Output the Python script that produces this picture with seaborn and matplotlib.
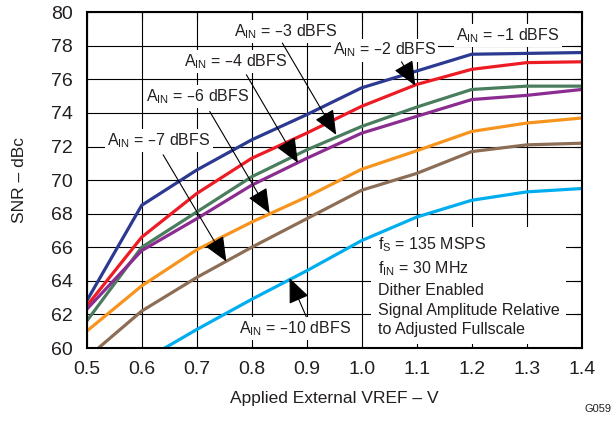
import matplotlib
matplotlib.use('Agg')
import matplotlib.pyplot as plt
import pandas as pd
import seaborn as sns

# values
vref = [0.5, 0.6, 0.7, 0.8, 0.9, 1.0, 1.1, 1.2, 1.3, 1.4]
snr_m1 = [62.8, 68.5, 70.6, 72.4, 73.9, 75.5, 76.5, 77.5, 77.55, 77.6]
snr_m2 = [62.5, 66.6, 69.2, 71.3, 72.8, 74.4, 75.7, 76.6, 77.0, 77.05]
snr_m3 = [61.6, 66.0, 68.1, 70.2, 71.8, 73.2, 74.35, 75.4, 75.6, 75.6]
snr_m4 = [62.3, 65.8, 67.7, 69.7, 71.3, 72.8, 73.8, 74.8, 75.05, 75.4]
snr_m6 = [61.0, 63.7, 65.85, 67.5, 69.0, 70.65, 71.75, 72.9, 73.4, 73.7]
snr_m7 = [59.4, 62.2, 64.2, 66.0, 67.7, 69.4, 70.4, 71.7, 72.1, 72.2]
snr_m10 = [57.0, 59.2, 61.1, 62.9, 64.6, 66.4, 67.8, 68.8, 69.3, 69.5]

levels = ['-1', '-2', '-3', '-4', '-6', '-7', '-10']
series = [snr_m1, snr_m2, snr_m3, snr_m4, snr_m6, snr_m7, snr_m10]
colors = ['#2B3990', '#ED1C24', '#4A7D5E', '#8B2C91', '#F7941D', '#8C6D55', '#00AEEF']

df = pd.DataFrame({
    'vref': vref * len(levels),
    'snr': [v for s in series for v in s],
    'ain': [lv for lv in levels for _ in vref],
})

sns.set_style('white')
plt.rcParams['font.family'] = ['Liberation Sans', 'DejaVu Sans']
ink = '#231F20'

fig = plt.figure(figsize=(6.16, 4.23), dpi=100)
ax = fig.add_axes([0.1407, 0.1773, 0.8036, 0.7937])

sns.lineplot(data=df, x='vref', y='snr', hue='ain', hue_order=levels,
             palette=dict(zip(levels, colors)), linewidth=2.3, sort=False,
             legend=False, ax=ax, zorder=2)

ax.set_xlim(0.5, 1.4)
ax.set_ylim(60, 80)
ax.set_xticks(vref)
ax.set_xticklabels(['%.1f' % v for v in vref])
ax.set_yticks(range(60, 81, 2))
ax.grid(True, color='black', linewidth=0.8)
ax.set_axisbelow(True)
ax.tick_params(direction='in', top=True, right=True, length=6, width=0.8,
               labelsize=14, color='black', labelcolor=ink)
ax.tick_params(axis='x', pad=9)
ax.tick_params(axis='y', pad=10)
for sp in ax.spines.values():
    sp.set_color('black')
    sp.set_linewidth(1.5)

ax.set_xlabel('Applied External VREF – V', fontsize=12.5, labelpad=10, color=ink)
ax.set_ylabel('SNR – dBc', fontsize=12.5, labelpad=17, color=ink)

# labels: (text, text x, text baseline y, arrow start, arrow tip)
notes = [
    ('–1', 1.2657, 78.33, None, None),
    ('–2', 1.0413, 77.47, (1.0724, 77.05), (1.0975, 75.62)),
    ('–3', 0.8612, 78.56, (0.8557, 78.17), (0.9537, 72.70)),
    ('–4', 0.7706, 76.78, (0.7903, 76.28), (0.8840, 71.03)),
    ('–6', 0.7026, 74.69, (0.7237, 74.09), (0.8326, 68.03)),
    ('–7', 0.6316, 72.10, (0.6390, 71.51), (0.7540, 65.15)),
    ('–10', 0.8789, 60.88, (0.8992, 61.87), (0.8689, 64.16)),
]
white = dict(facecolor='white', edgecolor='none', pad=1.5)
for lab, tx, ty, start, tip in notes:
    ax.text(tx, ty, r'A$_\mathregular{IN}$ = %s dBFS' % lab, ha='center',
            va='baseline', fontsize=11.5, color=ink, bbox=white, zorder=1)
    if start is not None:
        ax.annotate('', xy=tip, xytext=start, zorder=4,
                    arrowprops=dict(arrowstyle='-|>,head_length=0.7,head_width=0.3',
                                    color='black', lw=0.8,
                                    mutation_scale=22, shrinkA=0, shrinkB=0))

info = ('f$_\\mathregular{S}$ = 135 MSPS\n'
        'f$_\\mathregular{IN}$ = 30 MHz\n'
        'Dither Enabled\n'
        'Signal Amplitude Relative\n'
        'to Adjusted Fullscale')
ax.text(1.0292, 60.83, info, ha='left', va='baseline', fontsize=11.5,
        linespacing=1.38, zorder=1, color=ink,
        bbox=dict(facecolor='white', edgecolor='none', pad=5))

fig.text(0.993, 0.022, 'G059', ha='right', va='bottom', fontsize=8, color=ink)

fig.savefig('out.png', dpi=100)
